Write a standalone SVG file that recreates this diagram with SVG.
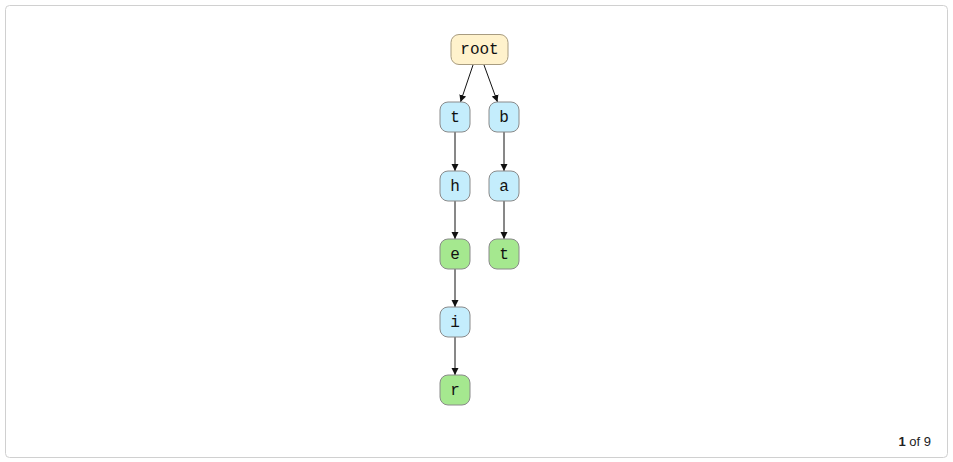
<svg xmlns="http://www.w3.org/2000/svg" width="953" height="462" viewBox="0 0 953 462">
  <style>
    .frame { fill: #ffffff; stroke: #d0d0d0; stroke-width: 1; }
    .node rect { stroke: #8a8a8a; stroke-width: 1; }
    .root rect { fill: #fff2cc; stroke: #a89c80; }
    .inner rect { fill: #c4edfc; }
    .leaf rect { fill: #a5e88f; }
    .node text { font-family: "Liberation Mono", "DejaVu Sans Mono", monospace; font-size: 16px; fill: #111; text-anchor: middle; dominant-baseline: central; }
    .edges line { stroke: #111; stroke-width: 1; marker-end: url(#arrow); }
    .pager { font-family: "Liberation Sans", "DejaVu Sans", sans-serif; font-size: 13px; fill: #222; }
  </style>
  <defs>
    <marker id="arrow" viewBox="0 0 10 10" refX="10" refY="5" markerWidth="7" markerHeight="10" markerUnits="userSpaceOnUse" orient="auto">
      <path d="M0,0 L10,5 L0,10 z" fill="#111"/>
    </marker>
  </defs>

  <rect class="frame" x="5.5" y="5.5" width="942" height="452" rx="4"/>

  <g class="edges">
    <line x1="473" y1="65" x2="460.5" y2="102"/>
    <line x1="484" y1="65" x2="497.5" y2="102"/>
    <line x1="455" y1="132" x2="455" y2="171"/>
    <line x1="455" y1="201" x2="455" y2="239"/>
    <line x1="455" y1="269" x2="455" y2="307"/>
    <line x1="455" y1="337" x2="455" y2="375"/>
    <line x1="504" y1="132" x2="504" y2="171"/>
    <line x1="504" y1="201" x2="504" y2="239"/>
  </g>

  <g id="node-root" class="node root">
    <rect x="451" y="34.5" width="57" height="30" rx="8"/>
    <text x="479.5" y="50">root</text>
  </g>
  <g id="node-t" class="node inner">
    <rect x="440" y="102" width="30" height="30" rx="8"/>
    <text x="455" y="117.5">t</text>
  </g>
  <g id="node-b" class="node inner">
    <rect x="489" y="102" width="30" height="30" rx="8"/>
    <text x="504" y="117.5">b</text>
  </g>
  <g id="node-th" class="node inner">
    <rect x="440" y="171" width="30" height="30" rx="8"/>
    <text x="455" y="186.5">h</text>
  </g>
  <g id="node-ba" class="node inner">
    <rect x="489" y="171" width="30" height="30" rx="8"/>
    <text x="504" y="186.5">a</text>
  </g>
  <g id="node-the" class="node leaf">
    <rect x="440" y="239" width="30" height="30" rx="8"/>
    <text x="455" y="254.5">e</text>
  </g>
  <g id="node-bat" class="node leaf">
    <rect x="489" y="239" width="30" height="30" rx="8"/>
    <text x="504" y="254.5">t</text>
  </g>
  <g id="node-thei" class="node inner">
    <rect x="440" y="307" width="30" height="30" rx="8"/>
    <text x="455" y="322.5">i</text>
  </g>
  <g id="node-their" class="node leaf">
    <rect x="440" y="375" width="30" height="30" rx="8"/>
    <text x="455" y="390.5">r</text>
  </g>

  <text class="pager" x="931" y="446" text-anchor="end"><tspan font-weight="bold">1</tspan> of 9</text>
</svg>
